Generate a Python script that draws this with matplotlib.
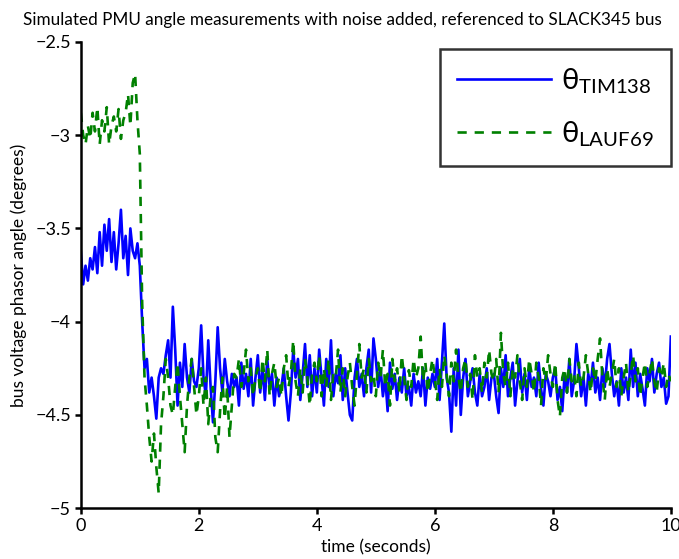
import numpy as np
import matplotlib
matplotlib.use("Agg")
import matplotlib.pyplot as plt

# sampling: 25 samples per second, 0..10 s
dt = 0.04
t_start = 0.0

theta_tim138 = [
    # 0 - 1 s
    -3.62, -3.80, -3.70, -3.78, -3.66, -3.72, -3.60, -3.74, -3.52, -3.70,
    -3.48, -3.62, -3.45, -3.68, -3.52, -3.72, -3.58, -3.40, -3.66, -3.54,
    -3.75, -3.50, -3.62, -3.66, -3.58,
    # 1 - 2 s
    -3.70, -4.00, -4.25, -4.20, -4.38, -4.30, -4.40, -4.52, -4.30, -4.25,
    -4.28, -4.18, -4.10, -4.30, -3.92, -4.15, -4.45, -4.22, -4.35, -4.12,
    -4.30, -4.38, -4.20, -4.32, -4.35,
    # 2 - 3 s
    -4.25, -4.02, -4.30, -4.40, -4.10, -4.35, -4.54, -4.32, -4.03, -4.25,
    -4.38, -4.20, -4.32, -4.40, -4.28, -4.35, -4.30, -4.45, -4.22, -4.36,
    -4.28, -4.40, -4.20, -4.45, -4.30,
    # 3 - 4 s
    -4.18, -4.38, -4.25, -4.42, -4.20, -4.35, -4.28, -4.45, -4.30, -4.40,
    -4.35, -4.25, -4.40, -4.53, -4.38, -4.15, -4.30, -4.20, -4.42, -4.28,
    -4.12, -4.35, -4.18, -4.40, -4.25,
    # 4 - 5 s
    -4.38, -4.15, -4.30, -4.45, -4.20, -4.35, -4.10, -4.40, -4.28, -4.33,
    -4.18, -4.42, -4.25, -4.38, -4.50, -4.53, -4.30, -4.20, -4.35, -4.28,
    -4.40, -4.25, -4.15, -4.38, -4.09,
    # 5 - 6 s
    -4.20, -4.35, -4.25, -4.40, -4.30, -4.48, -4.22, -4.36, -4.28, -4.42,
    -4.30, -4.38, -4.25, -4.40, -4.35, -4.45, -4.28, -4.38, -4.32, -4.40,
    -4.25, -4.45, -4.30, -4.36, -4.28,
    # 6 - 7 s
    -4.35, -4.20, -4.42, -4.22, -4.01, -4.30, -4.38, -4.59, -4.25, -4.45,
    -4.15, -4.50, -4.30, -4.20, -4.40, -4.32, -4.25, -4.38, -4.45, -4.28,
    -4.40, -4.35, -4.25, -4.42, -4.30,
    # 7 - 8 s
    -4.28, -4.40, -4.49, -4.25, -4.35, -4.18, -4.40, -4.30, -4.22, -4.45,
    -4.32, -4.20, -4.38, -4.28, -4.42, -4.25, -4.35, -4.30, -4.40, -4.22,
    -4.36, -4.45, -4.28, -4.32, -4.40,
    # 8 - 9 s
    -4.30, -4.25, -4.42, -4.35, -4.48, -4.28, -4.38, -4.20, -4.40, -4.32,
    -4.12, -4.25, -4.40, -4.30, -4.45, -4.28, -4.35, -4.22, -4.38, -4.30,
    -4.42, -4.25, -4.35, -4.20, -4.12,
    # 9 - 10 s
    -4.28, -4.40, -4.32, -4.45, -4.25, -4.38, -4.30, -4.42, -4.15, -4.35,
    -4.22, -4.40, -4.28, -4.36, -4.45, -4.25, -4.32, -4.20, -4.38, -4.28,
    -4.22, -4.35, -4.30, -4.44, -4.40,
    -4.08,
]

theta_lauf69 = [
    # 0 - 1 s
    -2.88, -3.00, -3.05, -2.95, -3.02, -2.88, -2.98, -2.85, -3.05, -2.92,
    -2.98, -2.85, -3.05, -2.95, -2.90, -2.98, -2.86, -3.02, -2.92, -2.88,
    -2.78, -2.95, -2.72, -2.67, -2.92,
    # 1 - 2 s
    -3.10, -3.90, -4.30, -4.45, -4.62, -4.75, -4.60, -4.78, -4.92, -4.55,
    -4.40, -4.20, -4.30, -4.45, -4.50, -4.35, -4.22, -4.40, -4.55, -4.70,
    -4.45, -4.30, -4.20, -4.35, -4.50,
    # 2 - 3 s
    -4.40, -4.25, -4.45, -4.30, -4.55, -4.40, -4.35, -4.62, -4.70, -4.48,
    -4.30, -4.52, -4.35, -4.62, -4.45, -4.28, -4.30, -4.20, -4.35, -4.28,
    -4.15, -4.32, -4.25, -4.40, -4.30,
    # 3 - 4 s
    -4.25, -4.38, -4.20, -4.32, -4.15, -4.40, -4.28, -4.22, -4.35, -4.30,
    -4.40, -4.25, -4.18, -4.35, -4.28, -4.10, -4.32, -4.40, -4.25, -4.38,
    -4.20, -4.30, -4.45, -4.28, -4.22,
    # 4 - 5 s
    -4.32, -4.18, -4.40, -4.25, -4.35, -4.20, -4.42, -4.28, -4.30, -4.15,
    -4.38, -4.25, -4.40, -4.30, -4.22, -4.35, -4.45, -4.28, -4.12, -4.30,
    -4.25, -4.38, -4.20, -4.32, -4.28,
    # 5 - 6 s
    -4.40, -4.22, -4.30, -4.15, -4.35, -4.28, -4.45, -4.20, -4.32, -4.25,
    -4.38, -4.18, -4.30, -4.42, -4.26, -4.35, -4.20, -4.30, -4.25, -4.08,
    -4.32, -4.22, -4.38, -4.28, -4.20,
    # 6 - 7 s
    -4.30, -4.42, -4.25, -4.35, -4.18, -4.28, -4.40, -4.22, -4.32, -4.15,
    -4.30, -4.38, -4.25, -4.20, -4.35, -4.28, -4.42, -4.18, -4.30, -4.25,
    -4.38, -4.22, -4.30, -4.15, -4.28,
    # 7 - 8 s
    -4.32, -4.20, -4.38, -4.06, -4.28, -4.35, -4.22, -4.40, -4.25, -4.30,
    -4.18, -4.32, -4.42, -4.25, -4.35, -4.20, -4.28, -4.38, -4.22, -4.30,
    -4.45, -4.25, -4.32, -4.18, -4.28,
    # 8 - 9 s
    -4.35, -4.22, -4.42, -4.51, -4.30, -4.25, -4.38, -4.20, -4.32, -4.28,
    -4.40, -4.22, -4.35, -4.30, -4.18, -4.28, -4.38, -4.25, -4.32, -4.20,
    -4.09, -4.30, -4.42, -4.25, -4.35,
    # 9 - 10 s
    -4.28, -4.20, -4.35, -4.25, -4.40, -4.30, -4.22, -4.38, -4.28, -4.18,
    -4.32, -4.25, -4.40, -4.30, -4.22, -4.35, -4.28, -4.20, -4.32, -4.38,
    -4.25, -4.30, -4.22, -4.35, -4.28,
    -4.32,
]

x_ticks = [0, 2, 4, 6, 8, 10]
y_ticks = [-5, -4.5, -4, -3.5, -3, -2.5]

plt.rcParams["font.family"] = ["Lato", "DejaVu Sans"]
plt.rcParams["mathtext.fontset"] = "custom"
plt.rcParams["mathtext.rm"] = "Lato"
plt.rcParams["mathtext.it"] = "Lato"
plt.rcParams["axes.unicode_minus"] = True

t = t_start + dt * np.arange(len(theta_tim138))

fig = plt.figure(figsize=(6.79, 5.59), dpi=100)
ax = fig.add_axes([0.119, 0.091, 0.869, 0.834])

ax.plot(t, theta_tim138, color="#0000ff", lw=1.9, label=r"$\theta_{\mathrm{TIM138}}$")
ax.plot(t, theta_lauf69, color="#008000", lw=1.9, ls=(0, (3.5, 3)),
        label=r"$\theta_{\mathrm{LAUF69}}$")

ax.set_xlim(0, 10)
ax.set_ylim(-5, -2.5)
ax.set_xticks(x_ticks)
ax.set_xticklabels([str(v) for v in x_ticks])
ax.set_yticks(y_ticks)
ax.set_yticklabels([f"{v:g}".replace("-", "\u2212") for v in y_ticks])

for side in ["top", "right"]:
    ax.spines[side].set_visible(False)
for side in ["left", "bottom"]:
    ax.spines[side].set_linewidth(1.8)
ax.tick_params(direction="out", length=4, width=1.8, labelsize=13, pad=3)

ax.set_xlabel("time (seconds)", fontsize=12.5, labelpad=4)
ax.set_ylabel("bus voltage phasor angle (degrees)", fontsize=12.5, labelpad=6)
fig.text(342 / 679, 1 - 20 / 559,
         "Simulated PMU angle measurements with noise added, referenced to SLACK345 bus",
         fontsize=12.3, ha="center", va="center")

leg = ax.legend(loc="upper right", bbox_to_anchor=(1.0, 0.985), fontsize=21,
                frameon=True, fancybox=False, handlelength=3.2, handletextpad=0.35,
                labelspacing=0.8, borderpad=0.6, borderaxespad=0.0)
leg.get_frame().set_edgecolor("black")
leg.get_frame().set_linewidth(1.8)

fig.savefig("out.png", dpi=100)
